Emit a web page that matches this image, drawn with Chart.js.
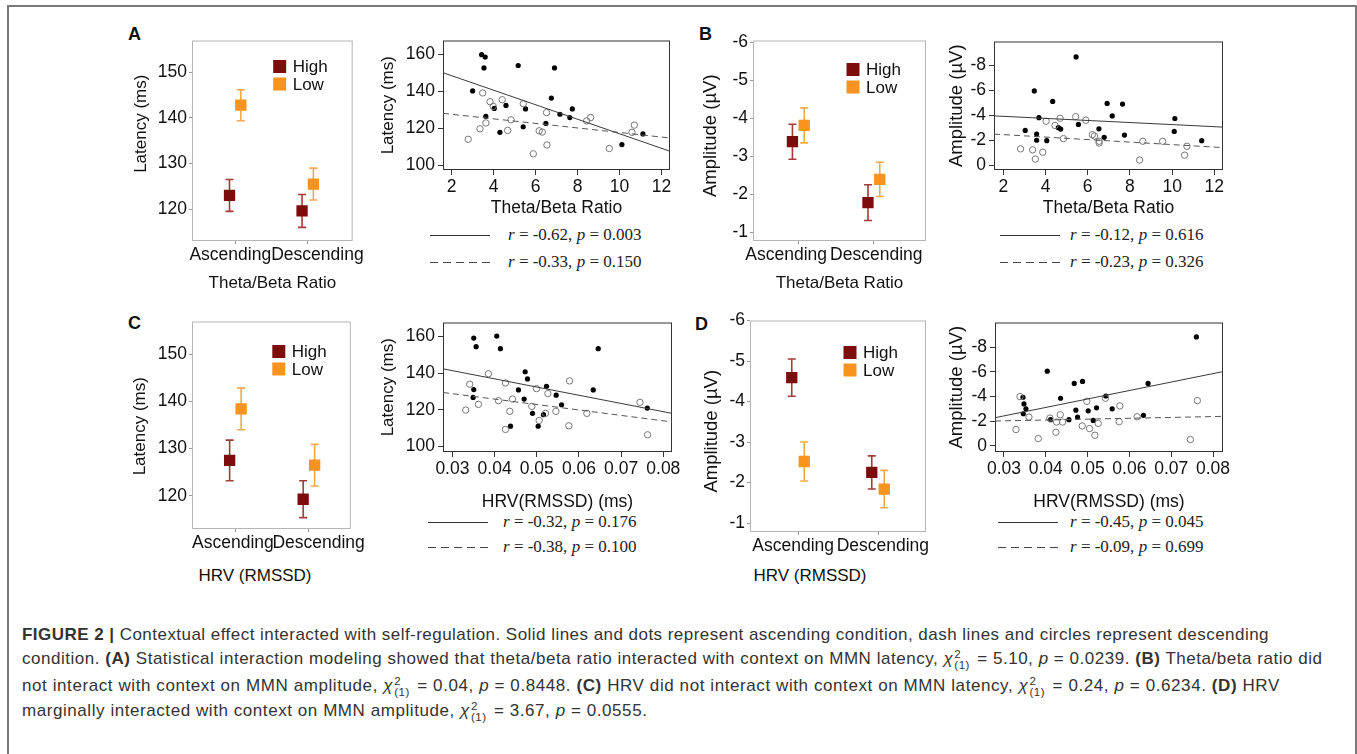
<!DOCTYPE html>
<html>
<head>
<meta charset="utf-8">
<script src="https://cdn.jsdelivr.net/npm/chart.js@4.4.0/dist/chart.umd.min.js"></script>
<style>
  body { margin: 0; background: #fff; width: 1357px; height: 754px; overflow: hidden; position: relative;
         font-family: "Liberation Sans", Arial, sans-serif; }
  .frame { position: absolute; left: 7px; top: 5px; width: 1350px; height: 800px; box-sizing: border-box;
           border: 2px solid #7a7a7a; border-bottom: none; }
  canvas { position: absolute; }
  .letter { position: absolute; font-weight: bold; font-size: 18px; line-height: 18px; color: #111; }
  .xt { position: absolute; font-size: 17px; line-height: 20px; color: #111; transform: translateX(-50%); white-space: nowrap; }
  .rl { position: absolute; height: 1px; width: 60px; background: #333; }
  .rl.dash { background: repeating-linear-gradient(to right, #444 0 8px, transparent 8px 13px); }
  .rt { position: absolute; font-family: "Liberation Serif", "Times New Roman", serif; font-size: 17px; line-height: 20px;
        color: #222; white-space: nowrap; }
  .cap { position: absolute; left: 22px; font-size: 17px; line-height: 20px; color: #333; white-space: nowrap; }
  .chi { font-style: italic; }
  .ss { display: inline-block; vertical-align: middle; line-height: 11px; font-size: 11.5px; text-align: left; margin: 0 2px 0 1px; }
  .ss span { display: block; }
</style>
</head>
<body>
<div class="frame"></div>

<div class="letter" style="left:128px;top:25px">A</div>
<div class="letter" style="left:699px;top:25px">B</div>
<div class="letter" style="left:128px;top:314px">C</div>
<div class="letter" style="left:695px;top:315px">D</div>

<div class="xt" style="left:255px;top:566px">HRV (RMSSD)</div>
<div class="xt" style="left:810px;top:566px">HRV (RMSSD)</div>

<div class="rl" style="left:430px;top:235px"></div>
<div class="rt" style="left:508px;top:225px"><i>r</i> = -0.62, <i>p</i> = 0.003</div>
<div class="rl dash" style="left:430px;top:262px"></div>
<div class="rt" style="left:508px;top:252px"><i>r</i> = -0.33, <i>p</i> = 0.150</div>

<div class="rl" style="left:1000px;top:235px"></div>
<div class="rt" style="left:1070px;top:225px"><i>r</i> = -0.12, <i>p</i> = 0.616</div>
<div class="rl dash" style="left:1000px;top:262px"></div>
<div class="rt" style="left:1070px;top:252px"><i>r</i> = -0.23, <i>p</i> = 0.326</div>

<div class="rl" style="left:428px;top:522px"></div>
<div class="rt" style="left:503px;top:512px"><i>r</i> = -0.32, <i>p</i> = 0.176</div>
<div class="rl dash" style="left:428px;top:547px"></div>
<div class="rt" style="left:503px;top:537px"><i>r</i> = -0.38, <i>p</i> = 0.100</div>

<div class="rl" style="left:998px;top:522px"></div>
<div class="rt" style="left:1070px;top:512px"><i>r</i> = -0.45, <i>p</i> = 0.045</div>
<div class="rl dash" style="left:998px;top:547px"></div>
<div class="rt" style="left:1070px;top:537px"><i>r</i> = -0.09, <i>p</i> = 0.699</div>

<div class="cap" data-w="1247" style="top:625px"><b>FIGURE 2 |</b> Contextual effect interacted with self-regulation. Solid lines and dots represent ascending condition, dash lines and circles represent descending</div>
<div class="cap" data-w="1301" style="top:649px">condition. <b>(A)</b> Statistical interaction modeling showed that theta/beta ratio interacted with context on MMN latency, <span class="chi">χ</span><span class="ss"><span>2</span><span>(1)</span></span> = 5.10, <i>p</i> = 0.0239. <b>(B)</b> Theta/beta ratio did</div>
<div class="cap" data-w="1259" style="top:676px">not interact with context on MMN amplitude, <span class="chi">χ</span><span class="ss"><span>2</span><span>(1)</span></span> = 0.04, <i>p</i> = 0.8448. <b>(C)</b> HRV did not interact with context on MMN latency, <span class="chi">χ</span><span class="ss"><span>2</span><span>(1)</span></span> = 0.24, <i>p</i> = 0.6234. <b>(D)</b> HRV</div>
<div class="cap" data-w="626" style="top:701px">marginally interacted with context on MMN amplitude, <span class="chi">χ</span><span class="ss"><span>2</span><span>(1)</span></span> = 3.67, <i>p</i> = 0.0555.</div>

<script>
// ---- data ----
const conditions = ['Ascending', 'Descending'];
const groupNames = ['High', 'Low'];

// condition means and error half-widths per group
const aHighMean = [123.0, 119.6], aHighErr = [3.5, 3.6];
const aLowMean = [142.8, 125.5], aLowErr = [3.4, 3.5];
const bHighMean = [-3.38, -1.78], bHighErr = [0.46, 0.47];
const bLowMean = [-3.81, -2.39], bLowErr = [0.46, 0.45];
const cHighMean = [127.5, 119.3], cHighErr = [4.3, 3.9];
const cLowMean = [138.4, 126.5], cLowErr = [4.4, 4.4];
const dHighMean = [-4.59, -2.25], dHighErr = [0.46, 0.41];
const dLowMean = [-2.52, -1.84], dLowErr = [0.48, 0.46];

// scatter points [predictor, MMN measure]; Asc = dots, Desc = circles
const aAsc = [[3.43,160],[3.60,158.7],[3.54,152.8],[5.17,154.1],[6.90,152.8],[3.00,140.3],[3.63,126.5],[4.03,130.8],
  [4.59,132.4],[5.52,130.5],[4.30,117.8],[5.41,120.8],[6.49,122.6],[6.75,136.4],[7.16,127.6],[7.63,125.8],[7.75,130.5],
  [10.11,111.1],[11.11,116.9]];
const aDesc = [[2.79,114.0],[3.35,119.7],[3.48,139.2],[3.63,122.9],[3.83,134.4],[3.98,131.9],[4.41,135.5],[4.67,118.8],
  [4.83,124.6],[5.41,133.3],[5.89,106.1],[6.17,118.6],[6.32,117.9],[6.52,128.5],[6.54,110.9],[8.43,124.0],[8.62,125.8],
  [9.51,109.0],[10.59,117.8],[10.70,121.7]];
const bAsc = [[5.45,-8.69],[3.47,-5.96],[4.34,-5.11],[3.69,-3.81],[3.58,-2.49],[3.58,-1.99],[3.04,-2.78],[4.06,-1.96],
  [4.61,-3.0],[4.72,-2.89],[5.56,-3.26],[6.53,-2.91],[6.78,-2.23],[6.92,-4.95],[7.16,-3.95],[7.65,-4.90],[7.74,-2.41],
  [10.13,-3.74],[10.10,-2.70],[11.4,-1.96]];
const bDesc = [[2.82,-1.30],[3.39,-1.22],[3.52,-0.48],[3.87,-1.03],[4.03,-3.52],[4.45,-3.18],[4.69,-3.76],[4.85,-2.12],
  [5.43,-3.89],[5.91,-3.60],[6.22,-2.44],[6.32,-2.33],[6.54,-1.91],[6.54,-1.77],[8.46,-0.40],[8.61,-1.91],[9.55,-1.91],
  [10.59,-0.79],[10.70,-1.51]];
const cAsc = [[0.03506,159.1],[0.03562,154.4],[0.04052,160.2],[0.04139,153.3],[0.03506,131.0],[0.03491,126.7],
  [0.04377,111.0],[0.04566,130.8],[0.04725,140.7],[0.04780,136.8],[0.04701,125.8],[0.04899,118.0],[0.05033,111.0],
  [0.05160,117.3],[0.05231,132.8],[0.05460,127.9],[0.05587,122.7],[0.06339,130.8],[0.06457,153.3],[0.07620,120.9]];
const cDesc = [[0.03316,119.8],[0.03411,133.9],[0.03617,122.9],[0.03854,139.6],[0.04092,124.9],[0.04258,134.6],
  [0.04258,109.2],[0.04361,119.1],[0.04424,125.8],[0.04883,121.8],[0.04994,131.5],[0.05057,114.1],[0.05207,118.0],
  [0.05263,128.8],[0.05453,119.1],[0.05777,135.7],[0.05761,111.2],[0.06188,118.0],[0.07446,124.0],[0.07628,106.3]];
const dAsc = [[0.07602,-8.83],[0.04035,-6.05],[0.04680,-5.06],[0.04879,-5.22],[0.06447,-5.06],[0.03454,-3.94],
  [0.03478,-3.40],[0.03525,-3.0],[0.03462,-2.60],[0.04115,-2.12],[0.04354,-3.86],[0.04553,-2.12],[0.04720,-2.89],
  [0.04760,-2.33],[0.05014,-2.84],[0.05213,-3.08],[0.05134,-2.06],[0.05436,-4.04],[0.05588,-3.0],[0.06336,-2.47]];
const dDesc = [[0.03287,-1.32],[0.03382,-3.99],[0.03597,-2.33],[0.03820,-0.59],[0.04099,-2.25],[0.04242,-1.10],
  [0.04258,-1.93],[0.04346,-2.52],[0.04401,-1.93],[0.04871,-1.61],[0.04982,-3.61],[0.05046,-1.40],[0.05174,-0.86],
  [0.05253,-1.82],[0.05428,-3.86],[0.05771,-3.24],[0.05755,-1.96],[0.06185,-2.36],[0.07459,-0.51],[0.07626,-3.67]];

// fitted regression lines, end points at the plot edges
const aFitAsc = [[1.59,150.2],[12.4,107.5]], aFitDesc = [[1.59,128.1],[12.4,114.7]];
const bFitAsc = [[1.56,-3.95],[12.41,-3.05]], bFitDesc = [[1.56,-2.49],[12.41,-1.40]];
const cFitAsc = [[0.02777,142.3],[0.08206,118.0]], cFitDesc = [[0.02777,129.4],[0.08206,113.3]];
const dFitAsc = [[0.02785,-2.28],[0.08239,-6.02]], dFitDesc = [[0.02785,-2.01],[0.08239,-2.39]];

// ticks
const meanLatTicks = [120, 130, 140, 150];
const meanAmpTicks = [-6, -5, -4, -3, -2, -1];
const latTicks = [100, 110, 120, 130, 140, 150, 160];
const latLabelled = [100, 120, 140, 160];
const ampTicks = [0, -2, -4, -6, -8];
const tbrTicks = [2, 4, 6, 8, 10, 12];
const hrvTicks = [0.03, 0.04, 0.05, 0.06, 0.07, 0.08];

const HIGH = '#7d0d0d', LOW = '#f7931e';
const HIGH_ERR = '#a53a3a', LOW_ERR = '#f6a94a';
const DODGE = 0.078;

Chart.defaults.font.family = '"Liberation Sans", Arial, sans-serif';
Chart.defaults.color = '#111';

// ---- plugins ----
const framePlugin = {
  id: 'frame',
  beforeDatasetsDraw(chart, args, o) {
    const a = chart.chartArea, ctx = chart.ctx;
    ctx.save();
    ctx.strokeStyle = o.color;
    ctx.lineWidth = o.width;
    ctx.strokeRect(a.left + 0.5, a.top + 0.5, a.right - a.left - 1, a.bottom - a.top - 1);
    ctx.restore();
  }
};

const errorBars = {
  id: 'errorBars',
  beforeDatasetsDraw(chart) {
    const ctx = chart.ctx, xs = chart.scales.x, ys = chart.scales.y;
    chart.data.datasets.forEach(ds => {
      if (!ds.err) return;
      ctx.save();
      ctx.strokeStyle = ds.errColor;
      ctx.lineWidth = 1.6;
      ds.data.forEach((p, i) => {
        const x = xs.getPixelForValue(p.x);
        const y1 = ys.getPixelForValue(p.y - ds.err[i]);
        const y2 = ys.getPixelForValue(p.y + ds.err[i]);
        ctx.beginPath();
        ctx.moveTo(x, y1); ctx.lineTo(x, y2);
        ctx.moveTo(x - 4, y1); ctx.lineTo(x + 4, y1);
        ctx.moveTo(x - 4, y2); ctx.lineTo(x + 4, y2);
        ctx.stroke();
      });
      ctx.restore();
    });
  }
};

const boxLegend = {
  id: 'boxLegend',
  afterDatasetsDraw(chart, args, o) {
    const a = chart.chartArea, ctx = chart.ctx;
    ctx.save();
    ctx.font = '17px "Liberation Sans", Arial, sans-serif';
    ctx.textBaseline = 'middle';
    chart.data.datasets.forEach((ds, i) => {
      const cx = a.right - o.right, cy = a.top + o.top + i * 17.5;
      ctx.fillStyle = ds.backgroundColor;
      ctx.fillRect(cx - 6.5, cy - 6.5, 13, 13);
      ctx.fillStyle = '#111';
      ctx.fillText(ds.label, cx + 13, cy + 1);
    });
    ctx.restore();
  }
};

// y title for the mean panels, which sits a little off the panel centre in the figure
const sideTitle = {
  id: 'sideTitle',
  afterDraw(chart, args, o) {
    const a = chart.chartArea, ctx = chart.ctx;
    ctx.save();
    ctx.font = o.size + 'px "Liberation Sans", Arial, sans-serif';
    ctx.fillStyle = '#111';
    ctx.textAlign = 'center';
    ctx.textBaseline = 'middle';
    ctx.translate(14, (a.top + a.bottom) / 2 + o.shift);
    ctx.rotate(-Math.PI / 2);
    ctx.fillText(o.text, 0, 0);
    ctx.restore();
  }
};

// ---- helpers ----
function makeCanvas(left, top, w, h) {
  const c = document.createElement('canvas');
  c.width = w; c.height = h;
  c.style.left = left + 'px'; c.style.top = top + 'px';
  c.style.width = w + 'px'; c.style.height = h + 'px';
  document.body.appendChild(c);
  return c.getContext('2d');
}

function frameFor(area, yTitleX, xTitleY) {
  const left = Math.round(yTitleX - 14);
  const top = area.t - 12;
  const right = area.r + 12;
  const bottom = xTitleY ? Math.round(xTitleY + 14) : area.b + 30;
  return { left, top, w: right - left, h: bottom - top, yW: area.l - left, xH: bottom - area.b };
}

function fixedTicks(values) {
  return s => { s.ticks = values.map(v => ({ value: v })); };
}

// the two condition labels sit nudged apart in the figure; pad them with spaces
function condLabel(v, nudge) {
  const i = v - 1;
  const n = nudge[i];
  return i === 0 ? conditions[i] + ' '.repeat(n) : ' '.repeat(n) + conditions[i];
}

function meanChart(p) {
  const f = frameFor(p.area, p.yTitleX, p.xTitleY);
  const ctx = makeCanvas(f.left, f.top, f.w, f.h);
  const pts = (means, shift) => means.map((m, i) => ({ x: i + 1 + shift, y: m }));
  new Chart(ctx, {
    type: 'scatter',
    data: {
      datasets: [
        { label: groupNames[0], data: pts(p.high, -DODGE), err: p.highErr, errColor: HIGH_ERR,
          backgroundColor: HIGH, borderColor: HIGH, pointStyle: 'rect', pointRadius: 8, borderWidth: 0 },
        { label: groupNames[1], data: pts(p.low, DODGE), err: p.lowErr, errColor: LOW_ERR,
          backgroundColor: LOW, borderColor: LOW, pointStyle: 'rect', pointRadius: 8, borderWidth: 0 }
      ]
    },
    options: {
      responsive: false, animation: false, events: [],
      layout: { padding: { top: 12, right: 12, left: 0, bottom: 0 } },
      plugins: {
        legend: { display: false }, tooltip: { enabled: false },
        frame: { color: '#b5b5b5', width: 1 },
        boxLegend: { right: p.legRight, top: p.legTop },
        sideTitle: { text: p.yTitle, size: p.yTitleSize, shift: p.yTitleShift }
      },
      scales: {
        x: {
          type: 'linear', min: p.xr[0], max: p.xr[1],
          afterBuildTicks: fixedTicks([1, 2]),
          afterFit: s => { s.height = f.xH; },
          border: { display: false },
          grid: { drawOnChartArea: false, drawTicks: true, tickLength: 3, color: '#999' },
          ticks: { autoSkip: false, maxRotation: 0, padding: 1, color: '#111',
                   font: { size: 17.5, lineHeight: 1.2 }, callback: v => condLabel(v, p.nudge) },
          title: { display: !!p.xTitleY, text: p.xTitle, color: '#111',
                   font: { size: 17, lineHeight: 1.2 }, padding: { top: 0, bottom: 14 - 10.2 } }
        },
        y: {
          type: 'linear', min: p.yr[0], max: p.yr[1], reverse: !!p.reverse,
          afterBuildTicks: fixedTicks(p.yTicks),
          afterFit: s => { s.width = f.yW; },
          border: { display: false },
          grid: { drawOnChartArea: false, drawTicks: true, tickLength: 3, color: '#999' },
          ticks: { padding: 2, color: '#111', font: { size: 17.5, lineHeight: 1.2 }, callback: v => String(v) }
        }
      }
    },
    plugins: [framePlugin, errorBars, boxLegend, sideTitle]
  });
}

function scatterChart(p) {
  const f = frameFor(p.area, p.yTitleX, p.xTitleY);
  const ctx = makeCanvas(f.left, f.top, f.w, f.h);
  const xy = arr => arr.map(d => ({ x: d[0], y: d[1] }));
  new Chart(ctx, {
    type: 'scatter',
    data: {
      datasets: [
        { data: xy(p.fitAsc), showLine: true, pointRadius: 0, borderColor: '#3a3a3a', borderWidth: 1 },
        { data: xy(p.fitDesc), showLine: true, pointRadius: 0, borderColor: '#555', borderWidth: 1, borderDash: [6, 4] },
        { data: xy(p.desc), pointRadius: 3.2, backgroundColor: 'rgba(255,255,255,0)', borderColor: '#777', borderWidth: 1 },
        { data: xy(p.asc), pointRadius: 2.6, backgroundColor: '#000', borderColor: '#000', borderWidth: 0 }
      ]
    },
    options: {
      responsive: false, animation: false, events: [],
      layout: { padding: { top: 12, right: 12, left: 0, bottom: 0 } },
      plugins: {
        legend: { display: false }, tooltip: { enabled: false },
        frame: { color: '#333', width: 1 }
      },
      scales: {
        x: {
          type: 'linear', min: p.xr[0], max: p.xr[1],
          afterBuildTicks: fixedTicks(p.xTicks),
          afterFit: s => { s.height = f.xH; },
          border: { display: false },
          grid: { drawOnChartArea: false, drawTicks: true, tickLength: 5, color: '#333' },
          ticks: { autoSkip: false, maxRotation: 0, padding: 2, color: '#111',
                   font: { size: 17.5, lineHeight: 1.2 }, callback: v => String(v) },
          title: { display: true, text: p.xTitle, color: '#111',
                   font: { size: 17.5, lineHeight: 1.2 }, padding: { top: 0, bottom: 14 - 10.5 } }
        },
        y: {
          type: 'linear', min: p.yr[0], max: p.yr[1], reverse: !!p.reverse,
          afterBuildTicks: fixedTicks(p.yTicks),
          afterFit: s => { s.width = f.yW; },
          border: { display: false },
          grid: { drawOnChartArea: false, drawTicks: true, tickLength: 5, color: '#333' },
          ticks: { padding: 3, color: '#111', font: { size: 17.5, lineHeight: 1.2 },
                   callback: v => (p.yLabelled.includes(v) ? String(v) : '') },
          title: { display: true, text: p.yTitle, color: '#111',
                   font: { size: p.yTitleSize, lineHeight: 1.2 }, padding: { top: 14 - p.yTitleSize * 0.6, bottom: 0 } }
        }
      }
    },
    plugins: [framePlugin]
  });
}

// ---- panels ----
meanChart({ area: { l: 192, t: 40, r: 356, b: 241 }, yTitleX: 141, xTitleY: 283, xTitle: 'Theta/Beta Ratio',
  yTitle: 'Latency (ms)', yTitleSize: 17, yTitleShift: -17, xr: [0.405, 2.62], yr: [113, 157], yTicks: meanLatTicks,
  nudge: [2, 4], high: aHighMean, highErr: aHighErr, low: aLowMean, lowErr: aLowErr, legRight: 73, legTop: 26 });
scatterChart({ area: { l: 443, t: 39, r: 670, b: 170 }, yTitleX: 388, xTitleY: 208, xTitle: 'Theta/Beta Ratio',
  yTitle: 'Latency (ms)', yTitleSize: 17, xr: [1.59, 12.4], yr: [97.3, 167.7], xTicks: tbrTicks,
  yTicks: latTicks, yLabelled: latLabelled, asc: aAsc, desc: aDesc, fitAsc: aFitAsc, fitDesc: aFitDesc });

meanChart({ area: { l: 753, t: 40, r: 926, b: 241 }, yTitleX: 711, xTitleY: 283, xTitle: 'Theta/Beta Ratio',
  yTitle: 'Amplitude (\u00b5V)', yTitleSize: 18.5, yTitleShift: -5, xr: [0.4, 2.69], yr: [-6.04, -0.77], reverse: true,
  nudge: [5, 1], yTicks: meanAmpTicks, high: bHighMean, highErr: bHighErr, low: bLowMean, lowErr: bLowErr,
  legRight: 73, legTop: 29 });
scatterChart({ area: { l: 994, t: 40, r: 1223, b: 170 }, yTitleX: 957, xTitleY: 208, xTitle: 'Theta/Beta Ratio',
  yTitle: 'Amplitude (\u00b5V)', yTitleSize: 18.5, xr: [1.56, 12.41], yr: [-9.93, 0.4], reverse: true,
  xTicks: tbrTicks, yTicks: ampTicks, yLabelled: ampTicks, asc: bAsc, desc: bDesc, fitAsc: bFitAsc, fitDesc: bFitDesc });

meanChart({ area: { l: 192, t: 321, r: 357, b: 529 }, yTitleX: 140, xTitleY: null, xTitle: '',
  yTitle: 'Latency (ms)', yTitleSize: 17, yTitleShift: 1, xr: [0.41, 2.57], yr: [113, 156.9], yTicks: meanLatTicks,
  nudge: [1, 4], high: cHighMean, highErr: cHighErr, low: cLowMean, lowErr: cLowErr, legRight: 72, legTop: 30 });
scatterChart({ area: { l: 443, t: 321, r: 672, b: 452 }, yTitleX: 388, xTitleY: 502, xTitle: 'HRV(RMSSD) (ms)',
  yTitle: 'Latency (ms)', yTitleSize: 17, xr: [0.02777, 0.08206], yr: [96.9, 167.6], xTicks: hrvTicks,
  yTicks: latTicks, yLabelled: latLabelled, asc: cAsc, desc: cDesc, fitAsc: cFitAsc, fitDesc: cFitDesc });

meanChart({ area: { l: 750, t: 320, r: 926, b: 532 }, yTitleX: 712, xTitleY: null, xTitle: '',
  yTitle: 'Amplitude (\u00b5V)', yTitleSize: 18.5, yTitleShift: 5, xr: [0.4, 2.6], yr: [-6.0, -0.78], reverse: true,
  nudge: [2, 2], yTicks: meanAmpTicks, high: dHighMean, highErr: dHighErr, low: dLowMean, lowErr: dLowErr,
  legRight: 76, legTop: 32 });
scatterChart({ area: { l: 995, t: 321, r: 1223, b: 452 }, yTitleX: 957, xTitleY: 502, xTitle: 'HRV(RMSSD) (ms)',
  yTitle: 'Amplitude (\u00b5V)', yTitleSize: 18.5, xr: [0.02785, 0.08239], yr: [-10.0, 0.5], reverse: true,
  xTicks: hrvTicks, yTicks: ampTicks, yLabelled: ampTicks, asc: dAsc, desc: dDesc, fitAsc: dFitAsc, fitDesc: dFitDesc });

// spread caption letters so each line ends where it does in the figure
document.querySelectorAll('.cap').forEach(el => {
  const target = +el.dataset.w;
  const natural = el.getBoundingClientRect().width;
  const chars = el.textContent.length;
  el.style.letterSpacing = ((target - natural) / chars).toFixed(3) + 'px';
});
</script>
</body>
</html>
